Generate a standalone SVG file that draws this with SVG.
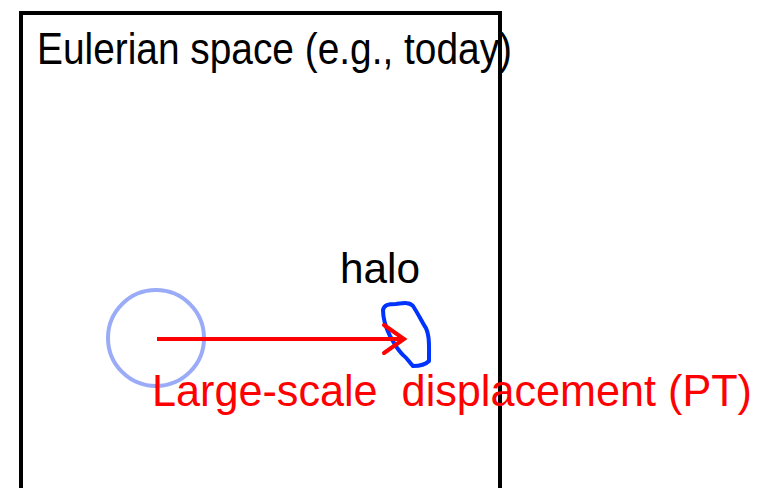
<svg xmlns="http://www.w3.org/2000/svg" width="776" height="488" viewBox="0 0 776 488">
<style>
.t{font-family:"Gill Sans","Liberation Sans",Arial,sans-serif;}
</style>
<rect width="776" height="488" fill="#ffffff"/>
<g id="eulerian-box">
<path d="M21,490 V13 H500 V490" fill="none" stroke="#000" stroke-width="4"/>
<text class="t" x="37" y="64" font-size="45" fill="#000" textLength="475" lengthAdjust="spacingAndGlyphs">Eulerian space (e.g., today)</text>
</g>
<g id="lagrangian-region">
<circle cx="156" cy="338" r="48" fill="none" stroke="#9aabf7" stroke-width="4"/>
</g>
<g id="halo">
<path d="M383,310 C384,305 388,304 396,304 C404,303 410,302 413,306 C417,312 420,318 424,325 C430,333 429,345 429,361 C425,365 418,366 413,366 C409,362 407,358 403,355 C396,348 394,343 390,336 C386,328 383,320 383,310 Z" fill="none" stroke="#0033ff" stroke-width="4" stroke-linejoin="round"/>
<text class="t" x="340" y="283" font-size="42" fill="#000" textLength="80" lengthAdjust="spacingAndGlyphs">halo</text>
</g>
<g id="connectors">
<line x1="157" y1="339" x2="403" y2="339" stroke="#ff0000" stroke-width="4"/>
<polyline points="384,325 404,339 384,353" fill="none" stroke="#ff0000" stroke-width="4" stroke-linecap="round"/>
<text class="t" x="152" y="406" font-size="45" fill="#ff0000" textLength="600" lengthAdjust="spacingAndGlyphs" xml:space="preserve">Large-scale  displacement (PT)</text>
</g>
</svg>
